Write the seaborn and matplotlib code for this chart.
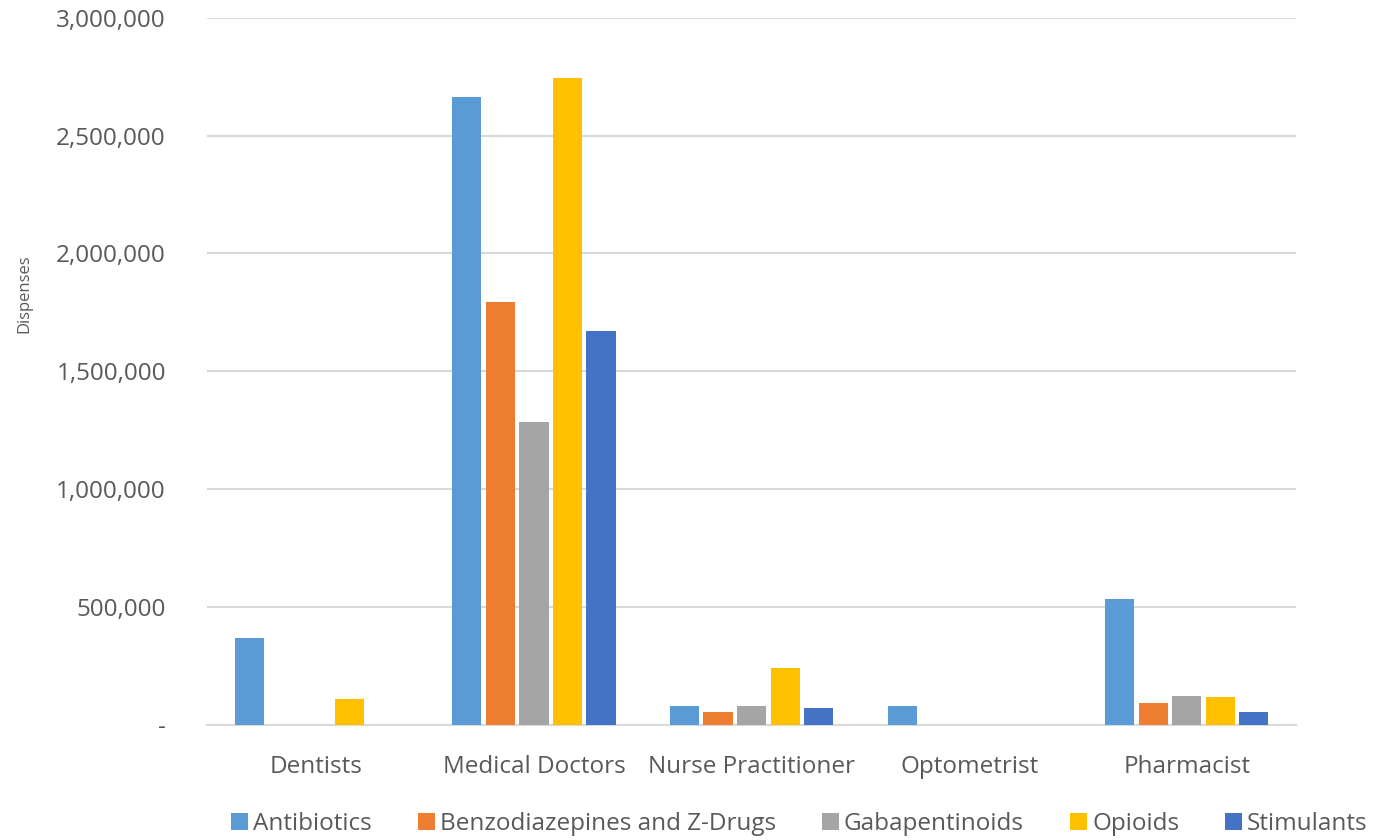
import pandas as pd
import numpy as np
import seaborn as sns
import matplotlib.pyplot as plt
from matplotlib.ticker import FuncFormatter

# provider types on the x axis
providers = ['Dentists', 'Medical Doctors', 'Nurse Practitioner', 'Optometrist', 'Pharmacist']
drugs = ['Antibiotics', 'Benzodiazepines and Z-Drugs', 'Gabapentinoids', 'Opioids', 'Stimulants']

# dispenses per drug class, one value per provider
antibiotics = [369000, 2665000, 80000, 80000, 535000]
benzos = [0, 1795000, 55000, 0, 93000]
gabapentinoids = [0, 1286000, 80000, 0, 123000]
opioids = [110000, 2742000, 242000, 0, 119000]
stimulants = [0, 1672000, 72000, 0, 55000]

yticks = [0, 500000, 1000000, 1500000, 2000000, 2500000, 3000000]

colors = ['#5B9BD5', '#ED7D31', '#A5A5A5', '#FFC000', '#4472C4']

rows = []
for drug, vals in zip(drugs, [antibiotics, benzos, gabapentinoids, opioids, stimulants]):
    for p, v in zip(providers, vals):
        rows.append({'Provider': p, 'Drug': drug, 'Dispenses': v})
df = pd.DataFrame(rows)

sns.set_style('white')
plt.rcParams['font.family'] = ['Open Sans', 'DejaVu Sans']
grey = '#595959'

fig = plt.figure(figsize=(13.74, 8.4), dpi=100)
ax = fig.add_axes([0.151, 0.137, 0.792, 0.842])

sns.barplot(data=df, x='Provider', y='Dispenses', hue='Drug', order=providers,
            hue_order=drugs, palette=colors, width=0.77, gap=0.13,
            saturation=1, linewidth=0, ax=ax, zorder=3, legend=True)

ax.set_ylim(0, 3000000)
ax.set_yticks(yticks)
ax.yaxis.set_major_formatter(FuncFormatter(lambda v, p: '-' if v == 0 else f'{int(v):,}'))
ax.grid(axis='y', color='#D9D9D9', lw=1.5, zorder=0)
ax.set_axisbelow(True)
for s in ['top', 'right', 'left']:
    ax.spines[s].set_visible(False)
ax.spines['bottom'].set_color('#D9D9D9')
ax.spines['bottom'].set_linewidth(1.5)
ax.tick_params(axis='both', length=0, labelsize=17.5, colors=grey)
ax.tick_params(axis='y', pad=30)
ax.tick_params(axis='x', pad=22)
ax.set_xlabel('')
ax.set_ylabel('Dispenses', fontsize=12, color=grey, labelpad=0)
ax.yaxis.set_label_coords(-0.161, 0.61)

handles, labels = ax.get_legend_handles_labels()
ax.legend(handles, labels, loc='center', bbox_to_anchor=(0.544, -0.14), ncol=5,
          frameon=False, fontsize=17.5, labelcolor=grey, handlelength=0.7,
          handleheight=0.7, handletextpad=0.2, columnspacing=1.9)

fig.savefig('out.png', dpi=100)
